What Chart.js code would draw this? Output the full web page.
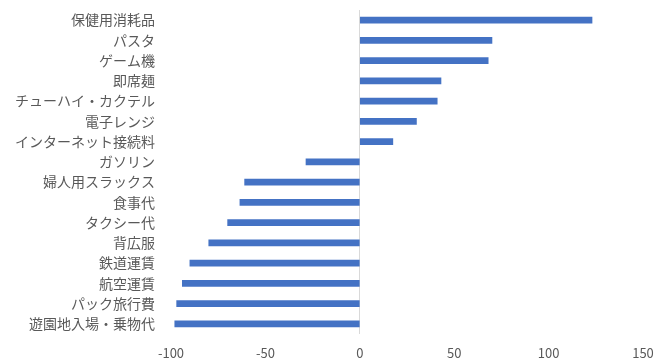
<!DOCTYPE html>
<html>
<head>
<meta charset="utf-8">
<script src="https://cdn.jsdelivr.net/npm/chart.js@4"></script>
<style>
  html, body { margin: 0; padding: 0; background: #fff; }
  #wrap { position: relative; width: 656px; height: 362px; }
</style>
</head>
<body>
<div id="wrap"><canvas id="chart"></canvas></div>
<script>
// 品目ごとの変化（上から順）
const items = [
  '保健用消耗品', 'パスタ', 'ゲーム機', '即席麺', 'チューハイ・カクテル',
  '電子レンジ', 'インターネット接続料', 'ガソリン', '婦人用スラックス', '食事代',
  'タクシー代', '背広服', '鉄道運賃', '航空運賃', 'パック旅行費', '遊園地入場・乗物代'
];
const changes = [123, 70, 68, 43, 41, 30, 17.5, -28.5, -61, -63.5, -70, -80, -90, -94, -97, -98];
const axisTicks = [-100, -50, 0, 50, 100, 150];

const labelFont = "'Noto Sans CJK JP', 'Noto Sans', sans-serif";

new Chart(document.getElementById('chart'), {
  type: 'bar',
  data: {
    labels: items,
    datasets: [{
      data: changes,
      backgroundColor: '#4472C4',
      barThickness: 6,
      borderWidth: 0
    }]
  },
  options: {
    indexAxis: 'y',
    responsive: true,
    maintainAspectRatio: false,
    animation: false,
    layout: { padding: { top: 10, right: 13, left: 0, bottom: 0 } },
    plugins: {
      legend: { display: false },
      tooltip: { enabled: false }
    },
    scales: {
      x: {
        min: axisTicks[0],
        max: axisTicks[axisTicks.length - 1],
        afterBuildTicks: (scale) => { scale.ticks = axisTicks.map(v => ({ value: v })); },
        border: { display: false },
        grid: {
          drawTicks: false,
          // only the zero line is drawn, like a vertical axis
          color: (c) => (c.tick && c.tick.value === 0) ? '#d9d9d9' : 'rgba(0,0,0,0)',
          lineWidth: 1
        },
        ticks: {
          padding: 11,
          color: '#595959',
          font: { family: labelFont, size: 13 }
        },
        afterFit: (scale) => {
          scale.height = 28;
          scale.paddingLeft = 0;
          scale.paddingRight = 0;
        }
      },
      y: {
        border: { display: false },
        grid: { display: false, drawTicks: false },
        ticks: {
          padding: 16,
          color: '#595959',
          autoSkip: false,
          font: { family: labelFont, size: 14 }
        },
        afterFit: (scale) => {
          scale.width = 171;
          scale.paddingTop = 0;
          scale.paddingBottom = 0;
        }
      }
    }
  }
});
</script>
</body>
</html>
